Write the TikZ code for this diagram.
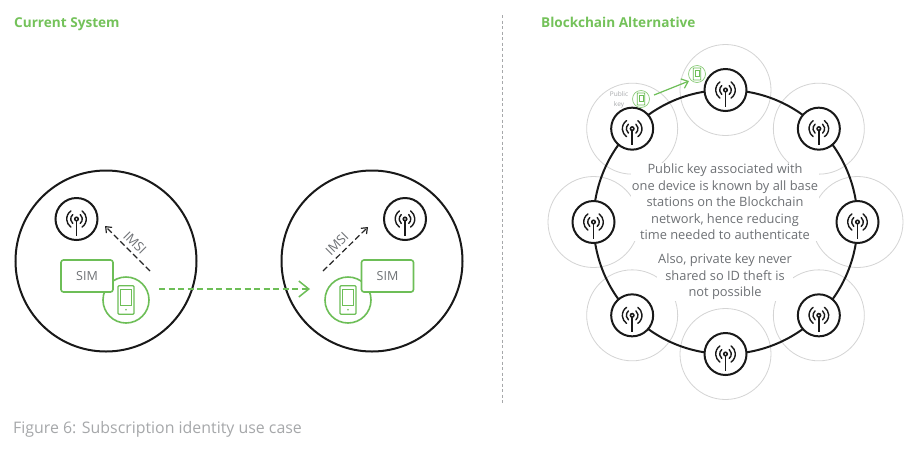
\documentclass[tikz,border=0pt]{standalone}
\usepackage{fontspec}
\setmainfont{Open Sans}
\usetikzlibrary{arrows.meta,calc}
\definecolor{dgreen}{HTML}{6DBE57}
\definecolor{tgreen}{HTML}{74C25A}
\definecolor{dtext}{HTML}{6E7175}
\definecolor{capt}{HTML}{A6A8AA}
\definecolor{ringgrey}{HTML}{D4D4D4}
\tikzset{
  bigcircle/.style={circle,draw=black!90,line width=2pt,minimum size=181pt,inner sep=0,fill=white},
  towernode/.style={circle,draw=black!90,line width=2pt,minimum size=42pt,inner sep=0,fill=white},
  halo/.style={circle,draw=ringgrey,line width=0.8pt,minimum size=91pt,inner sep=0,fill=none},
  phonenode/.style={circle,draw=dgreen,line width=1.6pt,minimum size=46pt,inner sep=0,fill=white},
  smallphone/.style={circle,draw=dgreen!80,line width=0.7pt,minimum size=17pt,inner sep=0,fill=white},
  simbox/.style={draw=dgreen,line width=1.6pt,rounded corners=2.5pt,minimum width=52pt,minimum height=32pt,inner sep=0,fill=white,text=dtext,font=\fontsize{12.5}{14}\selectfont},
  title/.style={anchor=base west,text=tgreen,font=\fontsize{13.6}{15}\selectfont\bfseries,inner sep=0},
  imsilabel/.style={text=dtext,font=\fontsize{13}{15}\selectfont,inner sep=0},
  bodytext/.style={text=dtext,align=center,font=\fontsize{12.85}{16.5}\selectfont,inner sep=0},
  imsiarrow/.style={dashed,dash pattern=on 6pt off 3pt,line width=1.2pt,black!85,-{Straight Barb[length=5pt,width=8pt]}},
  pics/towericon/.style={code={
    \fill[black!90] (0,0) circle (2.6);
    \fill[white] (0,0) circle (0.9);
    \draw[black!90,line width=1.4pt] (0,-2) -- (0,-16.5);
    \draw[black!90,line width=1.4pt,line cap=round] (-50:5.8) arc (-50:50:5.8);
    \draw[black!90,line width=1.4pt,line cap=round] (130:5.8) arc (130:230:5.8);
    \draw[black!90,line width=1.4pt,line cap=round] (-55:9.8) arc (-55:55:9.8);
    \draw[black!90,line width=1.4pt,line cap=round] (125:9.8) arc (125:235:9.8);
  }},
  pics/phoneicon/.style={code={
    \draw[dgreen,line width=1.3pt,rounded corners=1pt] (-8,-14.2) rectangle (8,14.2);
    \draw[dgreen,line width=1.2pt] (-5.5,-5.5) rectangle (5.5,10.5);
    \fill[dgreen] (0,-9.8) circle (0.9);
  }},
  pics/tinyphone/.style={code={
    \draw[dgreen,line width=0.8pt,rounded corners=0.5pt] (-3.7,-6) rectangle (3.7,6);
    \draw[dgreen,line width=0.6pt] (-2.2,-2.4) rectangle (2.2,4.2);
  }}
}
\begin{document}
\begin{tikzpicture}[x=1pt,y=1pt]
\useasboundingbox (0,0) rectangle (918,-448);
\fill[white] (0,0) rectangle (918,-448);

% titles and caption
\node[title] (tleft) at (14,-27) {Current System};
\node[title] (tright) at (541,-27) {Blockchain Alternative};
\node[anchor=base west,inner sep=0,text=capt,font=\fontsize{15.9}{18}\selectfont] (cap) at (13,-433) {Figure 6: Subscription identity use case};

% divider
\coordinate (divtop) at (502,-15);
\coordinate (divbot) at (502,-405);
\draw[capt,line width=0.7pt,dash pattern=on 3pt off 2.5pt] (divtop) -- (divbot);

% left circle
\node[bigcircle] (cl) at (106,-261) {};
\node[towernode] (twl) at (76.5,-219) {};
\pic at (twl.center) {towericon};
\node[phonenode] (pl) at (126,-300) {};
\pic at (pl.center) {phoneicon};
\node[simbox] (sl) at (87,-276) {SIM};
\coordinate (il0) at (150,-271);
\coordinate (il1) at (105,-226);
\draw[imsiarrow] (il0) -- (il1);
\node[imsilabel,rotate=-45] (imsil) at (135,-243) {IMSI};

% right circle
\node[bigcircle] (cr) at (372,-261) {};
\node[towernode] (twr) at (405,-219) {};
\pic at (twr.center) {towericon};
\node[phonenode] (pr) at (348,-300) {};
\pic at (pr.center) {phoneicon};
\node[simbox] (sr) at (387.5,-276) {SIM};
\coordinate (ir0) at (323,-271);
\coordinate (ir1) at (368,-227);
\draw[imsiarrow] (ir0) -- (ir1);
\node[imsilabel,rotate=45] (imsir) at (337,-244) {IMSI};

% move arrow
\coordinate (m0) at (159,-289);
\coordinate (m1) at (310,-289);
\draw[dgreen,line width=1.6pt,dash pattern=on 6pt off 3.5pt,-{Straight Barb[length=10pt,width=16pt,line width=1.5pt]}] (m0) -- (m1);

% blockchain ring
\coordinate (ctr) at (725.5,-222);
\foreach \i/\a in {1/135,2/90,3/45,4/0,5/-45,6/-90,7/-135,8/180}
  \node[halo] (h\i) at ($(ctr)+(\a:132)$) {};
\draw[black!90,line width=2pt] (ctr) circle (132);

\node[bodytext,fill=white,inner sep=1pt] (body1) at (725,-202) {Public key associated with\\one device is known by all base\\stations on the Blockchain\\network, hence reducing\\time needed to authenticate};
\node[bodytext,fill=white,inner sep=1pt] (body2) at (725,-277) {Also, private key never\\shared so ID theft is\\not possible};

\foreach \i/\a in {1/135,2/90,3/45,4/0,5/-45,6/-90,7/-135,8/180}{
  \node[towernode] (t\i) at ($(ctr)+(\a:132)$) {};
  \pic at (t\i.center) {towericon};
}

% public key
\node[smallphone] (k1) at (641,-99) {};
\pic at (k1.center) {tinyphone};
\node[smallphone] (k2) at (697,-74) {};
\pic at (k2.center) {tinyphone};
\node[inner sep=0,align=center,text=capt,font=\fontsize{6.5}{9.5}\selectfont] (pk) at (619,-100) {Public\\key};
\draw[dgreen,line width=1.2pt,-{Straight Barb[length=6pt,width=10pt]}] (k1) ++(13,4) -- ($(k2)+(-8,-7)$);
\end{tikzpicture}
\end{document}
